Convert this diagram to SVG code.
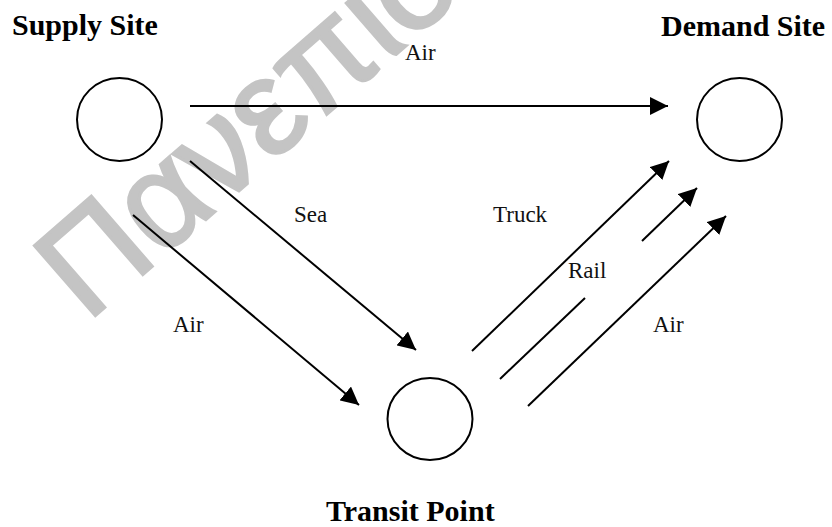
<svg xmlns="http://www.w3.org/2000/svg" width="832" height="527" viewBox="0 0 832 527">
<style>
.wm{font-family:"Liberation Sans","DejaVu Sans",sans-serif;font-size:135px;fill:#c4c4c4;stroke:#c4c4c4;stroke-width:3}
.title{font-family:"Liberation Serif","Times New Roman",serif;font-size:30px;font-weight:bold;fill:#000}
.lbl{font-family:"Liberation Serif","Times New Roman",serif;font-size:23px;fill:#111}
.node{fill:none;stroke:#000;stroke-width:2}
.edge{stroke:#000;stroke-width:2;fill:none}
</style>
<defs>
<marker id="ah" markerUnits="userSpaceOnUse" viewBox="0 0 18 18" refX="18" refY="9" markerWidth="18" markerHeight="18" orient="auto">
<path d="M0,0 L18,9 L0,18 z" fill="#000"/>
</marker>
</defs>
<rect width="832" height="527" fill="#fff"/>
<text class="wm" transform="translate(87,323) rotate(-41)">Πανεπιστήμιο</text>
<g id="supply">
<ellipse class="node" cx="119.5" cy="119.5" rx="42.5" ry="41.5"/>
<text class="title" x="12" y="35">Supply Site</text>
</g>
<g id="demand">
<ellipse class="node" cx="739.5" cy="119.5" rx="42.5" ry="41.5"/>
<text class="title" x="661" y="36">Demand Site</text>
</g>
<g id="transit">
<ellipse class="node" cx="430" cy="419" rx="42.5" ry="41"/>
<text class="title" x="326" y="521">Transit Point</text>
</g>
<g id="connectors">
<line class="edge" x1="190" y1="106" x2="668" y2="106" marker-end="url(#ah)"/>
<line class="edge" x1="190" y1="161" x2="416" y2="350" marker-end="url(#ah)"/>
<line class="edge" x1="133" y1="215" x2="359" y2="405" marker-end="url(#ah)"/>
<line class="edge" x1="472" y1="351" x2="669" y2="161" marker-end="url(#ah)"/>
<line class="edge" x1="500" y1="379" x2="585" y2="298"/>
<line class="edge" x1="642" y1="241" x2="697" y2="188" marker-end="url(#ah)"/>
<line class="edge" x1="528" y1="406" x2="726" y2="216" marker-end="url(#ah)"/>
<text class="lbl" x="405" y="60">Air</text>
<text class="lbl" x="294" y="222">Sea</text>
<text class="lbl" x="173" y="332">Air</text>
<text class="lbl" x="493" y="222">Truck</text>
<text class="lbl" x="568" y="278">Rail</text>
<text class="lbl" x="653" y="332">Air</text>
</g>
</svg>
